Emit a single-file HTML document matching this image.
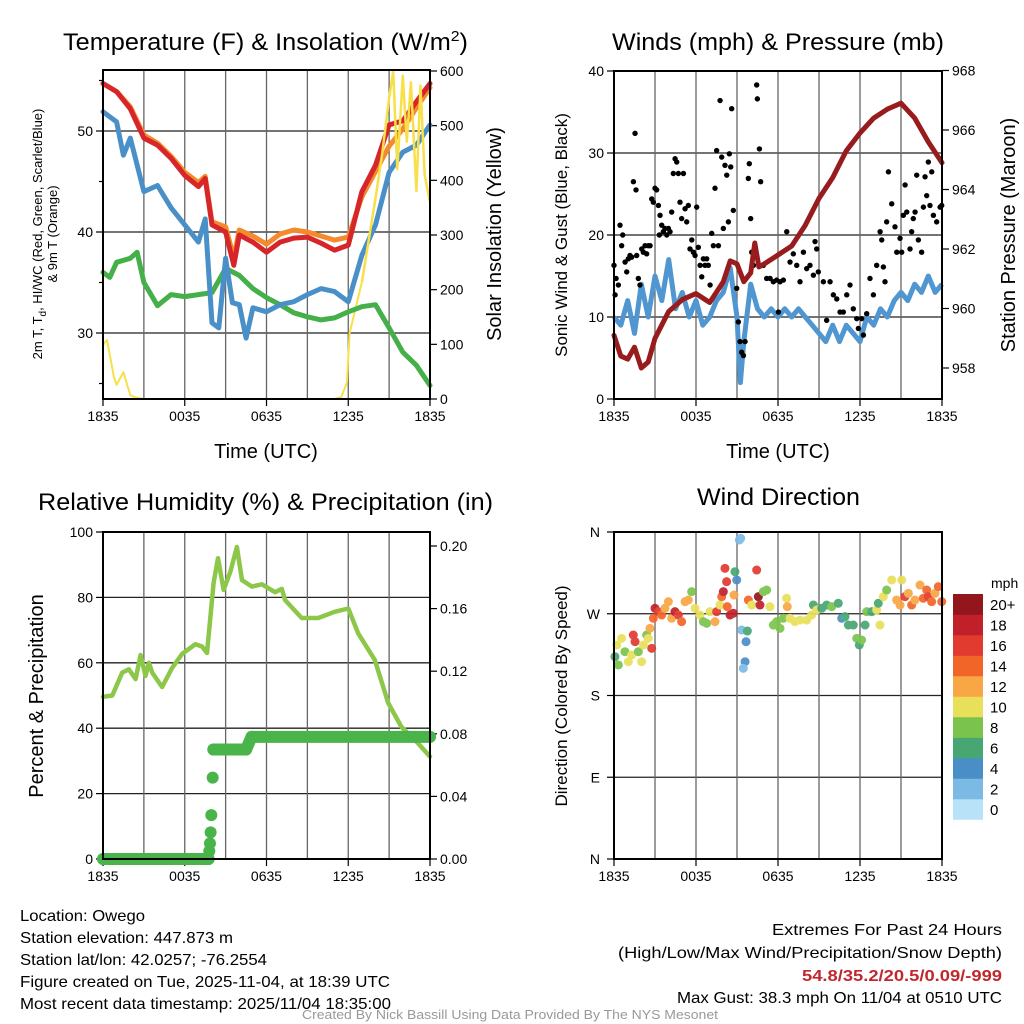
<!DOCTYPE html>
<html><head><meta charset="utf-8"><style>
html,body{margin:0;padding:0;background:#fff;}
svg{display:block;font-family:"Liberation Sans",sans-serif;}
</style></head><body>
<svg id="chart" width="1024" height="1024" viewBox="0 0 1024 1024" xmlns="http://www.w3.org/2000/svg">
<rect x="0" y="0" width="1024" height="1024" fill="#fff"/>
<text x="63" y="50" font-size="24" textLength="405" lengthAdjust="spacingAndGlyphs">Temperature (F) &amp; Insolation (W/m<tspan dy="-9" font-size="15">2</tspan><tspan dy="9">)</tspan></text>
<text x="612" y="50" font-size="24" textLength="332" lengthAdjust="spacingAndGlyphs">Winds (mph) &amp; Pressure (mb)</text>
<text x="38" y="510" font-size="24" textLength="455" lengthAdjust="spacingAndGlyphs">Relative Humidity (%) &amp; Precipitation (in)</text>
<text x="697" y="505" font-size="24" textLength="163" lengthAdjust="spacingAndGlyphs">Wind Direction</text>

<text x="266" y="458" font-size="20" text-anchor="middle">Time (UTC)</text>
<text x="778" y="458" font-size="20" text-anchor="middle">Time (UTC)</text>
<text transform="translate(42,234) rotate(-90)" font-size="13" text-anchor="middle">2m T, T<tspan dy="4" font-size="10">d</tspan><tspan dy="-4">, HI/WC (Red, Green, Scarlet/Blue)</tspan></text>
<text transform="translate(57,234) rotate(-90)" font-size="13" text-anchor="middle">&amp; 9m T (Orange)</text>
<text transform="translate(501,234) rotate(-90)" font-size="20" text-anchor="middle">Solar Insolation (Yellow)</text>
<text transform="translate(567,235) rotate(-90)" font-size="17" text-anchor="middle">Sonic Wind &amp; Gust (Blue, Black)</text>
<text transform="translate(1015,235) rotate(-90)" font-size="20" text-anchor="middle">Station Pressure (Maroon)</text>
<text transform="translate(43,696) rotate(-90)" font-size="20" text-anchor="middle">Percent &amp; Precipitation</text>
<text transform="translate(567,696) rotate(-90)" font-size="17" text-anchor="middle">Direction (Colored By Speed)</text>

<g font-size="16">
<text x="20" y="921" textLength="125" lengthAdjust="spacingAndGlyphs">Location: Owego</text>
<text x="20" y="943" textLength="213" lengthAdjust="spacingAndGlyphs">Station elevation: 447.873 m</text>
<text x="20" y="965" textLength="247" lengthAdjust="spacingAndGlyphs">Station lat/lon: 42.0257; -76.2554</text>
<text x="20" y="987" textLength="370" lengthAdjust="spacingAndGlyphs">Figure created on Tue, 2025-11-04, at 18:39 UTC</text>
<text x="20" y="1009" textLength="371" lengthAdjust="spacingAndGlyphs">Most recent data timestamp: 2025/11/04 18:35:00</text>
</g>
<g font-size="16">
<text x="772" y="935" textLength="230" lengthAdjust="spacingAndGlyphs">Extremes For Past 24 Hours</text>
<text x="618" y="958" textLength="384" lengthAdjust="spacingAndGlyphs">(High/Low/Max Wind/Precipitation/Snow Depth)</text>
<text x="802" y="981" textLength="200" lengthAdjust="spacingAndGlyphs" font-weight="bold" fill="#c1272d">54.8/35.2/20.5/0.09/-999</text>
<text x="677" y="1003" textLength="325" lengthAdjust="spacingAndGlyphs">Max Gust: 38.3 mph On 11/04 at 0510 UTC</text>
</g>
<text x="302" y="1019" font-size="13" fill="#999" textLength="416" lengthAdjust="spacingAndGlyphs">Created By Nick Bassill Using Data Provided By The NYS Mesonet</text>
<g id="layer"></g>
</svg>
<script>
// ---------- Temperature panel data ----------
const timeTickLabels = ["1835","0035","0635","1235","1835"];
const tempTicks = [30,40,50];
const solarTicks = [0,100,200,300,400,500,600];
const tempH = [0,1,2,3,4,5,6,7,7.5,8,9,9.6,10,11,12,13,14,15,16,17,18,19,20,21,22,23,24];
const redT = [54.7,53.9,52.2,49.3,48.6,47.3,45.6,44.5,45.3,40.7,40,36.7,39.7,39,38,39,39.4,39.5,38.9,38.2,38.7,44,46.6,50.6,51,52.9,54.7];
const orangeT = [54.7,53.9,52.4,49.6,48.8,47.5,45.9,44.9,45.5,41,40.5,37.5,40.2,39.6,38.8,39.8,40.2,40,39.6,39.2,39.5,43.5,46,48.5,50.2,52.3,54.3];
const blueH = [0,1,1.5,2,3,4,5,6,7,7.5,8,8.5,9,9.5,10,10.5,11,12,13,14,15,16,17,18,19,20,21,22,23,24];
const blueT = [51.9,50.9,47.6,49.3,44,44.6,42.4,40.7,39,41.3,31,30.5,37.4,33,32.8,29.5,32.5,32.1,32.8,33.1,33.8,34.4,34.1,33.1,37.7,40.7,45.9,47.9,48.6,50.6];
const greenH = [0,0.5,1,2,2.5,3,4,5,6,7,8,9,10,11,12,13,14,15,16,17,18,19,20,21,22,23,24];
const greenT = [36,35.5,37,37.4,38,35,32.7,33.8,33.6,33.8,34,36.4,35.7,34.4,33.5,32.8,32,31.6,31.3,31.5,32.1,32.6,32.8,30.5,28.1,26.8,24.8];
const solarH = [0,0.3,0.8,1,1.5,2,2.5,3,17,17.5,17.9,18.1,19,20,20.5,21,21.3,21.6,22,22.3,22.6,23,23.3,23.6,24];
const solarW = [99,108,40,26,49,7,2,0,0,4,30,120,214,367,450,550,600,420,592,470,580,380,574,410,360];
// ---------- Winds panel data ----------
const windTicks = [0,10,20,30,40];
const pressTicks = [958,960,962,964,966,968];
const windH = [0,0.5,1,1.5,2,2.5,3,3.5,4,4.5,5,5.5,6,6.5,7,7.5,8,8.5,9,9.25,9.5,10,10.5,11,11.5,12,12.5,13,13.5,14,14.5,15,15.5,16,16.5,17,17.5,18,18.5,19,19.5,20,20.5,21,21.5,22,22.5,23,23.5,24];
const windV = [10,9,12,8,14,10,15,12,17,11,13,10,12,9,10,12,13,16,10,2,7,14,11,10,11,10,11,10,11,10,9,8,7,9,7,9,8,7,10,9,11,10,12,13,12,14,13,15,13,14];
const pressH = [0,0.5,1,1.5,2,2.5,3,4,5,6,7,8,8.5,9,9.5,10,10.3,10.6,11,12,13,14,15,16,17,18,19,20,21,22,23,24];
const pressV = [959.1,958.4,958.3,958.7,958.0,958.2,959.0,959.9,960.3,960.5,960.2,960.9,961.6,961.5,960.9,961.2,962.2,961.4,961.5,961.8,962.1,962.8,963.7,964.4,965.3,965.9,966.4,966.7,966.9,966.4,965.6,964.9];
const gustPoints = [[0.0,16.3],[0.15,14.7],[0.08,12.7],[0.32,13.9],[0.44,21.2],[0.64,20.0],[0.56,18.7],[0.81,16.7],[0.93,15.5],[1.05,17.1],[1.17,17.5],[1.3,17.3],[1.42,26.5],[1.54,32.4],[1.61,25.5],[1.66,17.5],[1.78,14.7],[1.9,13.9],[2.03,18.3],[2.15,17.9],[2.27,18.7],[2.39,17.7],[2.51,18.7],[2.64,18.7],[2.76,24.4],[2.88,24.0],[3.0,25.7],[3.12,25.5],[3.25,23.6],[3.37,22.4],[3.32,20.0],[3.49,21.2],[3.61,20.4],[3.73,20.8],[3.86,20.0],[3.98,20.8],[4.1,20.4],[4.22,22.8],[4.34,27.5],[4.47,29.3],[4.59,28.9],[4.71,27.5],[4.83,24.0],[4.95,22.0],[5.08,27.5],[5.2,23.2],[5.32,21.6],[5.44,23.6],[5.56,18.3],[5.69,19.4],[5.81,17.9],[5.93,17.5],[6.05,23.4],[6.17,18.5],[6.3,16.3],[6.42,14.9],[6.54,17.1],[6.66,16.3],[6.78,17.1],[6.9,16.3],[7.03,13.9],[7.15,20.2],[7.27,18.7],[7.39,25.7],[7.51,30.3],[7.64,18.7],[7.76,36.4],[7.88,29.5],[8.0,20.8],[8.12,28.5],[8.25,27.3],[8.37,21.6],[8.44,29.9],[8.54,28.3],[8.61,35.4],[8.73,23.0],[8.98,13.5],[9.1,9.4],[9.22,7.0],[9.34,5.7],[9.47,5.3],[9.59,7.0],[9.83,26.9],[9.9,28.7],[10.0,22.0],[10.08,17.9],[10.2,16.3],[10.44,38.3],[10.49,36.6],[10.64,30.5],[10.73,26.5],[10.93,16.3],[11.17,14.7],[11.42,14.7],[11.66,14.3],[11.9,14.5],[12.03,10.6],[12.15,14.3],[12.39,14.5],[12.64,20.4],[12.88,16.7],[13.12,17.7],[13.37,16.3],[13.61,14.3],[13.86,17.9],[14.1,15.9],[14.34,16.3],[14.59,15.1],[14.71,19.2],[14.83,18.3],[14.95,15.5],[15.32,14.3],[15.56,9.6],[15.81,14.3],[16.05,12.7],[16.3,12.2],[16.54,10.6],[16.78,10.6],[17.03,12.7],[17.27,13.9],[17.51,11.0],[17.76,9.8],[17.88,8.6],[18.12,9.8],[18.25,7.8],[18.49,10.4],[18.73,14.7],[18.98,12.7],[19.22,16.3],[19.47,20.4],[19.59,19.4],[19.71,16.1],[19.83,14.3],[19.95,21.6],[20.08,27.7],[20.32,23.8],[20.56,21.0],[20.69,17.9],[20.93,19.6],[21.05,17.9],[21.17,22.4],[21.3,26.1],[21.42,22.8],[21.66,18.3],[21.78,20.4],[21.9,22.0],[22.03,22.8],[22.15,27.3],[22.27,19.4],[22.51,17.9],[22.64,23.4],[22.76,27.1],[22.88,24.8],[23.0,28.9],[23.12,23.6],[23.25,27.7],[23.37,22.4],[23.61,21.6],[23.86,23.4],[23.98,23.6]];
// ---------- Humidity panel data ----------
const rhTicks = [0,20,40,60,80,100];
const precipTicks = ["0.00","0.04","0.08","0.12","0.16","0.20"];
const rhH = [0,0.68,1.41,1.9,2.39,2.76,3.12,3.37,3.61,4.34,5.07,5.8,6.78,7.27,7.63,8.12,8.44,8.85,9.34,9.83,10.2,10.93,11.66,12.63,13.12,13.36,14.58,15.8,17.0,18.0,18.73,19.95,20.93,21.9,23.12,24];
const rhV = [49.6,50,57,58,55,62.4,56,60,57,52.6,58.4,62.7,65.7,65,63,84.4,92,82.3,87.8,95.4,85.3,83.3,84,81.6,82.6,79.2,73.7,73.7,75.6,76.6,69,60.9,47.7,40.4,35.4,31.3];
const precipH = [0,7.75,7.8,7.85,7.9,7.95,8.05,8.1,10.5,10.9,24];
const precipV = [0,0,0.005,0.01,0.017,0.028,0.052,0.07,0.07,0.078,0.078];
// ---------- Wind direction data ----------
const dirLabels = ["N","E","S","W","N"];
const speedBinLabels = ["0","2","4","6","8","10","12","14","16","18","20+"];
const dirPoints = [[0.07,222.7,6],[0.32,213.6,7],[0.2,235.6,10],[0.56,242.9,10],[0.8,228.2,8],[1.05,217.2,10],[1.29,224.6,9],[1.41,246.6,15],[1.54,239.3,15],[1.78,228.2,8],[2.02,217.2,10],[2.15,235.6,10],[2.39,246.6,8],[2.51,242.9,10],[2.63,253.9,12],[2.76,231.9,15],[2.88,265,13],[3.0,276,18],[3.24,272.3,16],[3.49,268.6,14],[3.73,276,12],[3.98,283.3,12],[4.22,265,12],[4.46,272.3,18],[4.71,268.6,16],[4.95,261.3,14],[5.2,283.3,12],[5.44,285.1,12],[5.68,294.3,8],[5.93,276,10],[6.29,268.6,10],[6.54,261.3,8],[6.78,259.4,8],[7.02,272.3,10],[7.39,261.3,12],[7.51,272.3,16],[7.76,279.6,10],[7.88,288.8,14],[8.0,294.3,18],[8.12,320,16],[8.24,305.3,16],[8.29,277.8,14],[8.49,268.6,18],[8.73,270.5,18],[8.78,290.6,12],[8.85,316.3,6],[8.98,307.2,4],[9.17,351.2,2],[9.27,353,2],[9.34,252.1,2],[9.66,239.3,4],[9.76,251,6],[9.59,217.2,4],[9.46,209.9,2],[9.83,285.1,14],[10.07,279.6,10],[10.44,318.1,16],[10.56,288.8,20],[10.68,279.6,18],[10.93,294.3,8],[11.17,296.1,8],[11.41,277.8,10],[11.66,257.6,8],[11.9,261.3,8],[12.15,253.9,8],[12.39,265,8],[12.63,287,10],[12.68,277.8,12],[12.88,265,10],[13.24,261.3,10],[13.61,263,10],[14.1,263,10],[14.46,268.6,10],[14.59,279.6,6],[14.83,274.1,10],[15.2,276,6],[15.56,279.6,6],[15.93,277.8,8],[16.41,281.5,6],[16.66,265,4],[16.9,266.8,6],[17.15,257.6,6],[17.51,257.6,6],[17.76,242.9,8],[17.95,235.6,6],[18.12,241.1,8],[18.37,257.6,6],[18.49,272.3,8],[18.85,272.3,6],[19.22,274.1,10],[19.46,257.6,10],[19.34,281.5,6],[19.71,288.8,10],[19.95,296.1,8],[20.32,307.2,10],[20.68,285.1,12],[21.05,307.2,10],[20.93,279.6,12],[21.29,288.8,16],[21.54,292.5,12],[21.78,279.6,14],[22.02,285.1,12],[22.39,301.6,12],[22.63,287,14],[22.88,296.1,14],[23.0,288.8,16],[23.24,283.3,14],[23.49,292.5,12],[23.73,299.8,14],[23.98,283.3,14]];

const NS = "http://www.w3.org/2000/svg";
const layer = document.getElementById('layer');
function mk(tag, attrs, parent) {
  const e = document.createElementNS(NS, tag);
  for (const k in attrs) e.setAttribute(k, attrs[k]);
  (parent || layer).appendChild(e);
  return e;
}
function scale(d0, d1, r0, r1) { return v => r0 + (v - d0) * (r1 - r0) / (d1 - d0); }
function linePath(xs, ys, fx, fy) { return xs.map((h, i) => (i ? 'L' : 'M') + fx(h).toFixed(1) + ' ' + fy(ys[i]).toFixed(1)).join(''); }

function frame(name, x0, y0, x1, y1, hLines, vLines) {
  const g = mk('g', {});
  
  
  hLines.forEach(y => mk('line', {x1: x0, x2: x1, y1: y, y2: y, stroke: '#222', 'stroke-width': 1.3}, g));
  vLines.forEach(x => mk('line', {x1: x, x2: x, y1: y0, y2: y1, stroke: '#666', 'stroke-width': 1.3}, g));
  return g;
}
function box(name, x0, y0, x1, y1) {
  const r = mk('rect', {x: x0, y: y0, width: x1 - x0, height: y1 - y0, fill: 'none', stroke: '#000', 'stroke-width': 2});
  
  
}
function label(txt, x, y, anchor, size, name) {
  const t = mk('text', {x: x, y: y, 'text-anchor': anchor, 'font-size': size});
  t.textContent = txt;
  
  
  return t;
}
function tick(x1, y1, x2, y2) { mk('line', {x1: x1, y1: y1, x2: x2, y2: y2, stroke: '#000', 'stroke-width': 1.2}); }
function timeAxis(fx, yb, prefix) {
  timeTickLabels.forEach((lab, i) => {
    const x = fx(i * 6);
    tick(x, yb, x, yb + 7);
    label(lab, x, yb + 22, 'middle', 14, prefix + '-x-tick-' + i);
  });
}

// ===== Panel 1: Temperature =====
(function () {
  const X0 = 103, X1 = 430, Y0 = 70, Y1 = 399;
  const fx = scale(0, 24, X0, X1);
  const fy = scale(30, 50, 333, 131);
  const fs = scale(0, 600, 399, 71);
  frame('temp', X0, Y0, X1, Y1, tempTicks.map(fy), [1, 2, 3, 4, 5, 6, 7].map(i => fx(i * 3)));
  tempTicks.forEach(v => { tick(X0 - 7, fy(v), X0, fy(v)); label(String(v), X0 - 10, fy(v) + 5, 'end', 14, 'temp-y-tick-' + v); });
  [25, 35, 45, 55].forEach(v => tick(X0 - 4, fy(v), X0, fy(v)));
  solarTicks.forEach(v => { tick(X1, fs(v), X1 + 7, fs(v)); label(String(v), X1 + 10, fs(v) + 5, 'start', 14, 'solar-y-tick-' + v); });
  timeAxis(fx, Y1, 'temp');
  const s = [
    ['solar-line', solarH, solarW, fs, '#f7e049', 2],
    ['green-dewpoint-line', greenH, greenT, fy, '#45b04a', 5],
    ['blue-windchill-line', blueH, blueT, fy, '#4a90c8', 5],
    ['orange-9m-temp-line', tempH, orangeT, fy, '#f58a2c', 5],
    ['red-2m-temp-line', tempH, redT, fy, '#d7262a', 5]
  ];
  s.forEach(([n, xs, ys, yf, c, w]) => {
    const p = mk('path', {d: linePath(xs, ys, fx, yf), fill: 'none', stroke: c, 'stroke-width': w, 'stroke-linejoin': 'round', 'stroke-linecap': 'round'});
    
    
  });
  const y = mk('path', {d: linePath(solarH.slice(12), solarW.slice(12), fx, fs), fill: 'none', stroke: '#f7e049', 'stroke-width': 2.5});
  
  
  box('temp', X0, Y0, X1, Y1);
})();

// ===== Panel 2: Winds =====
(function () {
  const X0 = 614, X1 = 942, Y0 = 71, Y1 = 399;
  const fx = scale(0, 24, X0, X1);
  const fy = scale(0, 40, 399, 71);
  const fp = scale(958, 966, 368, 130);
  frame('winds', X0, Y0, X1, Y1, [10, 20, 30].map(fy), [1, 2, 3, 4, 5, 6, 7].map(i => fx(i * 3)));
  windTicks.forEach(v => { tick(X0 - 7, fy(v), X0, fy(v)); label(String(v), X0 - 10, fy(v) + 5, 'end', 14, 'wind-y-tick-' + v); });
  pressTicks.forEach(v => { tick(X1, fp(v), X1 + 7, fp(v)); label(String(v), X1 + 10, fp(v) + 5, 'start', 14, 'pressure-y-tick-' + v); });
  timeAxis(fx, Y1, 'winds');
  const w = mk('path', {d: linePath(windH, windV, fx, fy), fill: 'none', stroke: '#5096d0', 'stroke-width': 5, 'stroke-linejoin': 'round'});
  
  
  const gg = mk('g', {});
  
  
  gustPoints.forEach(([h, v]) => {
    const c = mk('circle', {cx: fx(h), cy: fy(v), r: 2.7, fill: '#000'}, gg);
    
    
  });
  const p = mk('path', {d: linePath(pressH, pressV, fx, fp), fill: 'none', stroke: '#981b1e', 'stroke-width': 5, 'stroke-linejoin': 'round', 'stroke-linecap': 'round'});
  
  
  box('winds', X0, Y0, X1, Y1);
})();

// ===== Panel 3: Humidity =====
(function () {
  const X0 = 103, X1 = 430, Y0 = 532, Y1 = 859;
  const fx = scale(0, 24, X0, X1);
  const fy = scale(0, 100, 859, 532);
  const fp = scale(0, 0.2, 859, 546);
  frame('humidity', X0, Y0, X1, Y1, [20, 40, 60, 80].map(fy), [1, 2, 3, 4, 5, 6, 7].map(i => fx(i * 3)));
  rhTicks.forEach(v => { tick(X0 - 7, fy(v), X0, fy(v)); label(String(v), X0 - 10, fy(v) + 5, 'end', 14, 'rh-y-tick-' + v); });
  precipTicks.forEach(t => { const v = parseFloat(t); tick(X1, fp(v), X1 + 7, fp(v)); label(t, X1 + 10, fp(v) + 5, 'start', 14, 'precip-y-tick-' + t); });
  timeAxis(fx, Y1, 'humidity');
  const r = mk('path', {d: linePath(rhH, rhV, fx, fy), fill: 'none', stroke: '#8dc74a', 'stroke-width': 4.5, 'stroke-linejoin': 'round', 'stroke-linecap': 'round'});
  
  
  const pg = mk('g', {});
  
  
  for (let i = 1; i < precipH.length; i++) {
    if (Math.abs(precipV[i] - precipV[i - 1]) < 0.01 && precipH[i] - precipH[i - 1] > 0.1) {
      mk('line', {x1: fx(precipH[i - 1]), y1: fp(precipV[i - 1]), x2: fx(precipH[i]), y2: fp(precipV[i]), stroke: '#48b44a', 'stroke-width': 12, 'stroke-linecap': 'round'}, pg);
    }
  }
  precipH.forEach((h, i) => {
    const c = mk('circle', {cx: fx(h), cy: fp(precipV[i]), r: 6, fill: '#48b44a'}, pg);
    
    
  });
  box('humidity', X0, Y0, X1, Y1);
})();

// ===== Panel 4: Wind Direction =====
(function () {
  const X0 = 614, X1 = 942, Y0 = 532, Y1 = 859;
  const fx = scale(0, 24, X0, X1);
  const fy = scale(0, 360, 859, 532);
  const colors = ['#b8e2f8', '#7cbae6', '#4a8ec7', '#47a672', '#7ac44d', '#e8e05a', '#f9a744', '#f26529', '#e13a2e', '#c1202a', '#93161c'];
  frame('direction', X0, Y0, X1, Y1, [90, 180, 270].map(fy), [1, 2, 3, 4, 5, 6, 7].map(i => fx(i * 3)));
  dirLabels.forEach((lab, i) => { const v = i * 90; tick(X0 - 7, fy(v), X0, fy(v)); label(lab, X0 - 14, fy(v) + 5, 'end', 14, 'direction-y-tick-' + i); });
  timeAxis(fx, Y1, 'direction');
  const dg = mk('g', {opacity: 0.92});
  
  
  dirPoints.forEach(([h, d, s]) => {
    const bin = Math.min(10, Math.max(0, Math.round(s / 2)));
    const c = mk('circle', {cx: fx(h), cy: fy(d), r: 4.5, fill: colors[bin]}, dg);
    
    
  });
  box('direction', X0, Y0, X1, Y1);
  const cb = mk('g', {});
  
  
  const top = 594, bh = 20.5;
  speedBinLabels.forEach((lab, i) => {
    const yy = top + (10 - i) * bh;
    const rr = mk('rect', {x: 953, y: yy, width: 30, height: bh + 0.3, fill: colors[i]}, cb);
    
    
    const t = mk('text', {x: 990, y: yy + 16, 'font-size': 15}, cb);
    t.textContent = lab;
    
    
  });
  const u = mk('text', {x: 991, y: 588, 'font-size': 14}, cb);
  u.textContent = 'mph';
  
  
})();
</script>
</body></html>
